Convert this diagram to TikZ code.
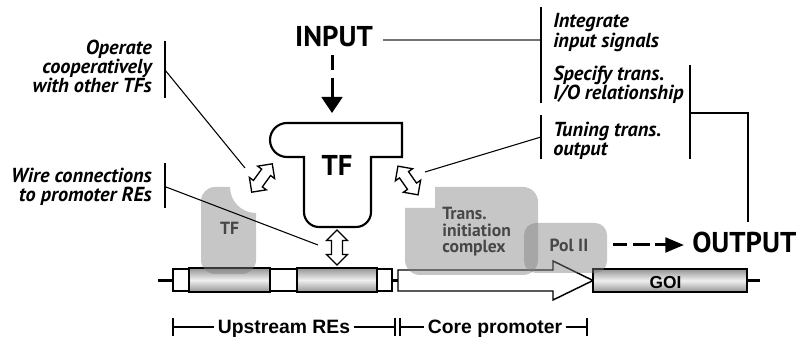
\documentclass[tikz,border=0pt]{standalone}
\usepackage{fontspec}
\setmainfont{Liberation Sans}
\newfontfamily\pts{PT Sans}
\usetikzlibrary{arrows.meta}
\begin{document}
\begin{tikzpicture}[x=0.75pt,y=-0.75pt,
  bar/.style={line width=1.5pt},
  thinline/.style={line width=0.8pt},
  lbl/.style={font=\pts\bfseries\itshape\fontsize{15.2}{14.3}\selectfont, inner sep=0},
  big/.style={font=\pts\bfseries\fontsize{21.5}{22}\selectfont, inner sep=0},
  blob/.style={fill=black!50, fill opacity=0.45},
  blobtxt/.style={font=\pts\bfseries\fontsize{13.2}{12.4}\selectfont, text=black!72, inner sep=0},
  arb/.style={font=\bfseries\fontsize{14.5}{16}\selectfont, inner sep=0},
  dna/.style={draw=black, line width=1.1pt},
  cyl/.style={top color=black!42, bottom color=black!42, middle color=black!6},
  hollow/.style={draw=black, fill=white, line width=1pt, line join=miter},
  dblarrow/.pic={\draw[hollow] (-17.5,0) -- (-7,-10.5) -- (-7,-5.5) -- (7,-5.5) -- (7,-10.5) -- (17.5,0) -- (7,10.5) -- (7,5.5) -- (-7,5.5) -- (-7,10.5) -- cycle;},
]
\useasboundingbox (0,0) rectangle (800,341);

% ---------- DNA ----------
\coordinate (dnaL) at (158,280.5);
\coordinate (dnaR) at (760,280.5);
\draw[line width=2.25pt] (dnaL) -- (dnaR);
\filldraw[dna, fill=white] (173,269) rectangle (392,291);
\shade[cyl] (189,268) rectangle (270,292);
\draw[dna] (189,268) rectangle (270,292);
\shade[cyl] (297,268) rectangle (377,292);
\draw[dna] (297,268) rectangle (377,292);
\filldraw[dna, fill=white] (398,270) -- (553,270) -- (553,261) -- (593,280.5) -- (553,300) -- (553,291) -- (398,291) -- cycle;
\shade[cyl] (593,269) rectangle (747,292);
\draw[dna] (593,269) rectangle (747,292);
\node[font=\bfseries\fontsize{13}{14}\selectfont, inner sep=0, anchor=base] (goi) at (665.5,288.5) {GOI};

% ---------- grey blobs ----------
\fill[blob] (215,187) -- (230,187) .. controls (230,201.4) and (241.6,213) .. (256,213) -- (256,260) .. controls (256,267.7) and (249.7,274) .. (242,274) -- (215,274) .. controls (207.3,274) and (201,267.7) .. (201,260) -- (201,201) .. controls (201,193.3) and (207.3,187) .. (215,187) -- cycle;
\fill[blob] (405,208) -- (435,208) -- (435,187) -- (523,187) .. controls (531.3,187) and (538,193.7) .. (538,202) -- (538,260) .. controls (538,268.3) and (531.3,275) .. (523,275) -- (420,275) .. controls (411.7,275) and (405,268.3) .. (405,260) -- cycle;
\fill[blob, rounded corners=9pt] (524,223) rectangle (607,273);
\node[blobtxt, anchor=base] (tf2) at (229.5,235) {TF};
\node[blobtxt, align=left, anchor=north west] (tic) at (442,207) {Trans.\\initiation\\complex};
\node[blobtxt, anchor=base] (pol) at (569,251.5) {Pol II};

% ---------- TF ----------
\draw[line width=1.6pt, fill=white] (287,123) -- (402,123) -- (402,157) -- (371,157) -- (371,212) .. controls (371,220.3) and (364.3,227) .. (356,227) -- (319,227) .. controls (310.7,227) and (304,220.3) .. (304,212) -- (304,157) -- (287,157) .. controls (277.6,157) and (270,149.4) .. (270,140) .. controls (270,130.6) and (277.6,123) .. (287,123) -- cycle;
\node[font=\pts\bfseries\fontsize{21.5}{22}\selectfont, inner sep=0, anchor=base] (tf) at (337,175.5) {TF};

% ---------- double arrows ----------
\pic (da1) [rotate=54] at (262,178) {dblarrow};
\pic (da2) [rotate=-55] at (408,180.5) {dblarrow};
\pic (da3) [rotate=90] at (337,247.5) {dblarrow};

% ---------- INPUT / OUTPUT ----------
\node[big, anchor=base] (input) at (334,47) {INPUT};
\coordinate (inA) at (332,55);
\coordinate (inB) at (332,113);
\draw[line width=2.25pt, dash pattern=on 11.25pt off 6pt on 15pt off 6pt, -{Triangle[length=12pt,width=15.5pt]}] (inA) -- (inB);
\node[big, anchor=base west] (output) at (692,253) {OUTPUT};
\coordinate (outA) at (613,245);
\coordinate (outB) at (684,245);
\draw[line width=2.25pt, dash pattern=on 10.5pt off 4.5pt on 12.75pt off 3.75pt on 20pt off 20pt, -{Triangle[length=14pt,width=11pt]}] (outA) -- (outB);

% ---------- labels ----------
\node[lbl, align=right, anchor=north east] (op) at (152,40) {Operate\\cooperatively\\with other TFs};
\node[lbl, align=right, anchor=north east] (wire) at (152,168) {Wire connections\\to promoter REs};
\node[lbl, align=left, anchor=north west] (integ) at (553,13.5) {Integrate\\input signals};
\node[lbl, align=left, anchor=north west] (spec) at (553,65.5) {Specify trans.\\I/O relationship};
\node[lbl, align=left, anchor=north west] (tun) at (553,121.5) {Tuning trans.\\output};

% bars
\coordinate (b1t) at (165,41);  \coordinate (b1b) at (165,98);
\coordinate (b2t) at (165,163); \coordinate (b2b) at (165,208);
\coordinate (b3t) at (541,7);   \coordinate (b3b) at (541,103);
\coordinate (b4t) at (541,115); \coordinate (b4b) at (541,159);
\coordinate (b5t) at (690,65);  \coordinate (b5b) at (690,159);
\draw[bar] (b1t) -- (b1b);
\draw[bar] (b2t) -- (b2b);
\draw[bar] (b3t) -- (b3b);
\draw[bar] (b4t) -- (b4b);
\draw[bar] (b5t) -- (b5b);

% pointer lines
\coordinate (p1) at (165,70);   \coordinate (q1) at (245,168);
\coordinate (p2) at (166,187);  \coordinate (q2) at (318,245);
\coordinate (p3) at (383,40);   \coordinate (q3) at (540,40);
\coordinate (p4) at (541,137);  \coordinate (q4) at (425,172);
\coordinate (p5) at (690,113);  \coordinate (q5) at (748,222);
\draw[thinline] (p1) -- (q1);
\draw[thinline] (p2) -- (q2);
\draw[line width=1.1pt, draw=black!55] (p3) -- (q3);
\draw[thinline] (p4) -- (q4);
\draw[thinline] (p5) -| (q5);

% ---------- region brackets ----------
\node[arb, anchor=base] (up) at (284,333.5) {Upstream REs};
\node[arb, anchor=base] (core) at (495,333.5) {Core promoter};
\coordinate (t1) at (173,327); \coordinate (t2) at (395,327);
\coordinate (t3) at (400,327); \coordinate (t4) at (587,327);
\draw[thinline] (t1) -- ([xshift=-2.5pt]up.west |- t1);
\draw[thinline] ([xshift=2.5pt]up.east |- t2) -- (t2);
\draw[thinline] (t3) -- ([xshift=-2.5pt]core.west |- t3);
\draw[thinline] ([xshift=2.5pt]core.east |- t4) -- (t4);
\foreach \t in {t1,t2,t3,t4} \draw[thinline] ([yshift=6.5pt]\t) -- ([yshift=-6.5pt]\t);
\end{tikzpicture}
\end{document}
